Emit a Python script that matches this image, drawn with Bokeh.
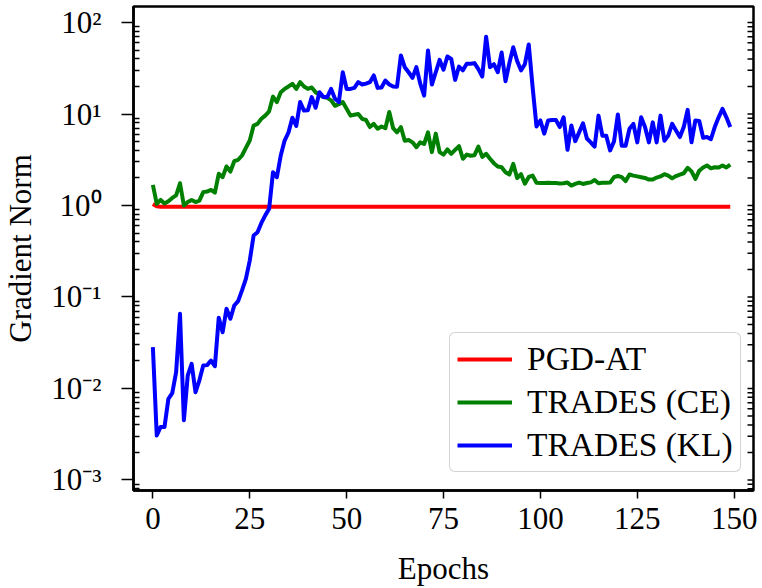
import math
from bokeh.plotting import figure
from bokeh.models import (Range1d, FixedTicker, CustomJSTickFormatter,
                          Legend, LegendItem)
from bokeh.embed import file_html
from bokeh.resources import INLINE

# ---------------- data ----------------
epochs = list(range(150))

pgd_at = [
    1.04, 0.98, 0.97, 0.97, 0.97, 0.97, 0.97, 0.97, 0.97, 0.97,
    0.97, 0.97, 0.97, 0.97, 0.97, 0.97, 0.97, 0.97, 0.97, 0.97,
    0.97, 0.97, 0.97, 0.97, 0.97, 0.97, 0.97, 0.97, 0.97, 0.97,
    0.97, 0.97, 0.97, 0.97, 0.97, 0.97, 0.97, 0.97, 0.97, 0.97,
    0.97, 0.97, 0.97, 0.97, 0.97, 0.97, 0.97, 0.97, 0.97, 0.97,
    0.97, 0.97, 0.97, 0.97, 0.97, 0.97, 0.97, 0.97, 0.97, 0.97,
    0.97, 0.97, 0.97, 0.97, 0.97, 0.97, 0.97, 0.97, 0.97, 0.97,
    0.97, 0.97, 0.97, 0.97, 0.97, 0.97, 0.97, 0.97, 0.97, 0.97,
    0.97, 0.97, 0.97, 0.97, 0.97, 0.97, 0.97, 0.97, 0.97, 0.97,
    0.97, 0.97, 0.97, 0.97, 0.97, 0.97, 0.97, 0.97, 0.97, 0.97,
    0.97, 0.97, 0.97, 0.97, 0.97, 0.97, 0.97, 0.97, 0.97, 0.97,
    0.97, 0.97, 0.97, 0.97, 0.97, 0.97, 0.97, 0.97, 0.97, 0.97,
    0.97, 0.97, 0.97, 0.97, 0.97, 0.97, 0.97, 0.97, 0.97, 0.97,
    0.97, 0.97, 0.97, 0.97, 0.97, 0.97, 0.97, 0.97, 0.97, 0.97,
    0.97, 0.97, 0.97, 0.97, 0.97, 0.97, 0.97, 0.97, 0.97, 0.97,
]

trades_ce = [
    1.68, 1.04, 1.15, 1.05, 1.11, 1.21, 1.29, 1.75, 1.00, 1.09,
    1.15, 1.09, 1.13, 1.40, 1.42, 1.48, 1.38, 2.22, 2.04, 2.67,
    2.35, 3.05, 3.16, 3.52, 4.27, 5.13, 7.48, 7.80, 8.86, 9.60,
    10.7, 15.5, 13.5, 17.3, 18.8, 20.0, 21.4, 18.8, 22.3, 20.0,
    18.8, 19.5, 17.3, 16.2, 15.3, 15.0, 14.1, 12.3, 12.8, 13.5,
    11.4, 9.60, 9.80, 10.0, 8.86, 8.60, 7.20, 7.80, 6.90, 7.30,
    7.00, 10.5, 7.00, 6.30, 7.20, 5.10, 5.20, 4.90, 4.34, 4.90,
    4.70, 6.30, 3.83, 6.10, 3.83, 3.60, 4.10, 3.67, 4.05, 4.45,
    3.24, 3.60, 3.50, 3.55, 4.40, 3.40, 3.67, 3.24, 2.90, 2.67,
    2.62, 2.31, 2.18, 2.85, 2.00, 2.20, 1.73, 2.05, 2.12, 1.77,
    1.76, 1.76, 1.77, 1.76, 1.76, 1.74, 1.75, 1.78, 1.65, 1.72,
    1.78, 1.72, 1.76, 1.79, 1.90, 1.75, 1.77, 1.77, 1.78, 2.04,
    2.10, 2.04, 1.85, 2.18, 2.12, 2.08, 2.04, 2.00, 1.92, 1.92,
    2.02, 2.08, 2.20, 2.12, 1.98, 2.10, 2.18, 2.25, 2.58, 2.36,
    1.95, 2.40, 2.60, 2.74, 2.55, 2.62, 2.60, 2.74, 2.60, 2.80,
]

trades_kl = [
    0.0283, 0.00306, 0.0038, 0.0038, 0.0077, 0.0089, 0.0151, 0.0655, 0.0045, 0.0139,
    0.0186, 0.0091, 0.0123, 0.0178, 0.0180, 0.0202, 0.0175, 0.0593, 0.0412, 0.0743,
    0.0578, 0.0807, 0.090, 0.118, 0.158, 0.25, 0.47, 0.51, 0.645, 0.78,
    0.92, 2.31, 2.04, 3.52, 5.13, 6.3, 9.1, 7.4, 13.5, 10.9,
    11.0, 15.3, 11.7, 17.3, 15.3, 15.3, 18.8, 14.7, 13.5, 28.6,
    18.8, 18.8, 19.3, 22.3, 21.0, 21.5, 22.3, 26.4, 19.3, 19.5,
    23.2, 21.0, 20.0, 19.8, 43.6, 32.5, 28.6, 24.8, 32.5, 21.5,
    15.9, 49.4, 21.0, 28.6, 39.0, 30.5, 42.5, 40.0, 23.6, 33.0,
    30.0, 35.4, 35.4, 36.0, 31.0, 25.7, 70.0, 32.5, 35.0, 28.6,
    47.0, 22.8, 36.0, 53.7, 38.0, 30.0, 35.0, 57.5, 19.6, 7.3,
    8.5, 6.1, 8.5, 8.6, 8.6, 7.2, 9.2, 4.06, 7.5, 5.05,
    6.3, 7.9, 5.4, 4.9, 4.4, 9.6, 5.8, 5.8, 4.0, 5.0,
    9.9, 4.5, 4.5, 6.9, 7.8, 4.9, 9.2, 7.2, 4.9, 8.1,
    4.9, 9.6, 5.1, 5.8, 7.8, 6.6, 5.6, 7.2, 11.1, 4.9,
    8.5, 8.4, 5.5, 5.6, 5.3, 7.2, 9.2, 11.4, 9.2, 7.2,
]

series_names = ["PGD-AT", "TRADES (CE)", "TRADES (KL)"]
series_colors = ["#ff0000", "#008000", "#0000ff"]

x_ticks = [0, 25, 50, 75, 100, 125, 150]
y_major_ticks = [1e-3, 1e-2, 1e-1, 1e0, 1e1, 1e2]
y_minor_ticks = [m * 10.0 ** k for k in range(-4, 3) for m in range(2, 10)]

X_MIN, X_MAX = -5, 155
Y_MIN, Y_MAX = 10 ** -3.115, 10 ** 2.175
FONT = "Liberation Serif"

# ---------------- figure ----------------
p = figure(width=762, height=588, y_axis_type="log",
           x_range=Range1d(X_MIN, X_MAX), y_range=Range1d(Y_MIN, Y_MAX),
           output_backend="svg", toolbar_location=None,
           min_border_left=132, min_border_right=9,
           min_border_top=6, min_border_bottom=98)
p.background_fill_color = "white"
p.border_fill_color = "white"
p.xgrid.visible = False
p.ygrid.visible = False
p.outline_line_color = "black"
p.outline_line_width = 2.5
p.outline_line_alpha = 1.0

renderers = []
for ys, c in zip([pgd_at, trades_ce, trades_kl], series_colors):
    r = p.line(epochs, ys, line_color=c, line_width=4, line_join="round")
    renderers.append(r)

# inward tick marks along the right frame edge (mirror of the y ticks)
right_ticks = [t for t in y_major_ticks + y_minor_ticks if Y_MIN <= t <= Y_MAX]
p.ray(x=[X_MAX] * len(right_ticks), y=right_ticks, length=6, length_units="screen",
      angle=math.pi, line_color="black", line_width=1.5)

y_ticker = FixedTicker(ticks=y_major_ticks, minor_ticks=y_minor_ticks)
sup_code = """
const e = Math.round(Math.log10(tick));
const m = {'-': '\\u207b', '0': '\\u2070', '1': '\\u00b9', '2': '\\u00b2', '3': '\\u00b3'};
let s = '';
for (const c of String(e)) { s += m[c]; }
return '10' + s;
"""

# left axis
yl = p.left[0]
yl.ticker = y_ticker
yl.formatter = CustomJSTickFormatter(code=sup_code)
yl.axis_label = "Gradient Norm"
yl.axis_label_text_font = FONT
yl.axis_label_text_font_size = "31px"
yl.axis_label_text_font_style = "normal"
yl.axis_label_text_color = "black"
yl.axis_label_standoff = 10
yl.major_label_text_font = FONT
yl.major_label_text_font_size = "31px"
yl.major_label_text_color = "black"
yl.major_label_standoff = 20
yl.major_tick_out = 12
yl.major_tick_in = 0
yl.minor_tick_out = 0
yl.minor_tick_in = 6
yl.major_tick_line_width = 1.5
yl.minor_tick_line_width = 1.5
yl.major_tick_line_color = "black"
yl.minor_tick_line_color = "black"
yl.axis_line_width = 2.5
yl.axis_line_color = "black"

# bottom axis
xa = p.below[0]
xa.ticker = FixedTicker(ticks=x_ticks)
xa.axis_label = "Epochs"
xa.axis_label_text_font = FONT
xa.axis_label_text_font_size = "31px"
xa.axis_label_text_font_style = "normal"
xa.axis_label_text_color = "black"
xa.axis_label_text_line_height = 1.0
xa.axis_label_standoff = 19
xa.major_label_text_font = FONT
xa.major_label_text_font_size = "31px"
xa.major_label_text_color = "black"
xa.major_label_text_line_height = 1.0
xa.major_label_standoff = 9
xa.major_tick_out = 8
xa.major_tick_in = 0
xa.minor_tick_out = 0
xa.minor_tick_in = 0
xa.major_tick_line_width = 1.5
xa.major_tick_line_color = "black"
xa.axis_line_width = 2.5
xa.axis_line_color = "black"

# legend
items = [LegendItem(label=n, renderers=[r]) for n, r in zip(series_names, renderers)]
legend = Legend(items=items, location=(316, 18))
legend.label_text_font = FONT
legend.label_text_font_size = "33.5px"
legend.label_text_color = "black"
legend.glyph_width = 55
legend.glyph_height = 20
legend.label_standoff = 15
legend.padding = 7
legend.spacing = 5
legend.label_width = 201
legend.margin = 0
legend.border_line_color = "#a8a8a8"
legend.border_line_width = 1.5
legend.background_fill_color = "white"
legend.background_fill_alpha = 1.0
if "border_radius" in Legend.properties():
    legend.border_radius = 6
p.add_layout(legend)

with open("out.html", "w", encoding="utf-8") as f:
    f.write(file_html(p, INLINE))
